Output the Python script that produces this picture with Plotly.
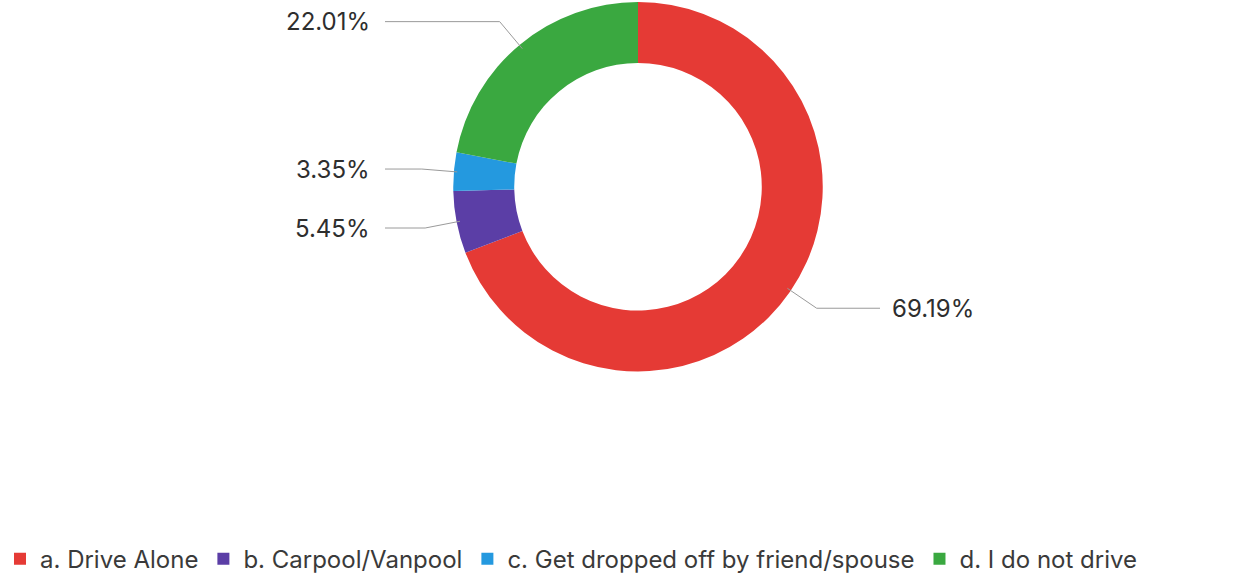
import math
import plotly.graph_objects as go

categories = ["a. Drive Alone", "b. Carpool/Vanpool",
              "c. Get dropped off by friend/spouse", "d. I do not drive"]
percents = [69.19, 5.45, 3.35, 22.01]
colors = ["#e53a35", "#5b3ea6", "#2499df", "#3aa840"]

W, H = 1245, 582
cx, cy, R = 638, 189, 187  # pie centre / radius in px

fig = go.Figure(go.Pie(
    labels=categories,
    values=percents,
    marker=dict(colors=colors, line=dict(width=0)),
    hole=0.67,
    sort=False,
    direction="clockwise",
    rotation=0,
    textinfo="none",
    hoverinfo="label+percent",
    domain=dict(x=[(cx - R) / W, (cx + R) / W], y=[1 - (cy + R) / H, 1 - (cy - R) / H]),
))

# outside labels with elbow leader lines, placed from slice mid-angles
total = sum(percents)
cum = 0
for v in percents:
    mid = (cum + v / 2) / total * 2 * math.pi
    cum += v
    sx, sy = math.sin(mid), -math.cos(mid)
    x0, y0 = cx + 0.97 * R * sx, cy + 0.97 * R * sy
    x1, y1 = cx + 1.16 * R * sx, cy + 1.16 * R * sy
    if sx >= 0:
        x2, tx, anchor = 880, 890, "left"
    else:
        x2, tx, anchor = 385, 372, "right"
    fig.add_shape(type="path",
                  path=f"M{x0/W},{1-y0/H} L{x1/W},{1-y1/H} L{x2/W},{1-y1/H}",
                  xref="paper", yref="paper",
                  line=dict(color="#9a9a9a", width=1))
    fig.add_annotation(x=tx / W, y=1 - y1 / H, xref="paper", yref="paper",
                       text=f"{v:.2f}%", showarrow=False, xanchor=anchor,
                       yanchor="middle", font=dict(size=24, color="#2e2e2e"))

fig.update_layout(
    width=W, height=H,
    margin=dict(l=0, r=0, t=0, b=0),
    paper_bgcolor="white",
    font=dict(family="Inter, Roboto, sans-serif", size=24, color="#3a3a3a"),
    showlegend=True,
    legend=dict(orientation="h", x=0, xanchor="left", y=(H - 566) / H,
                yanchor="middle", itemclick=False, font=dict(size=24)),
)

fig.write_html("out.html", config={"displayModeBar": False},
               post_script="document.body.style.margin='0';")
